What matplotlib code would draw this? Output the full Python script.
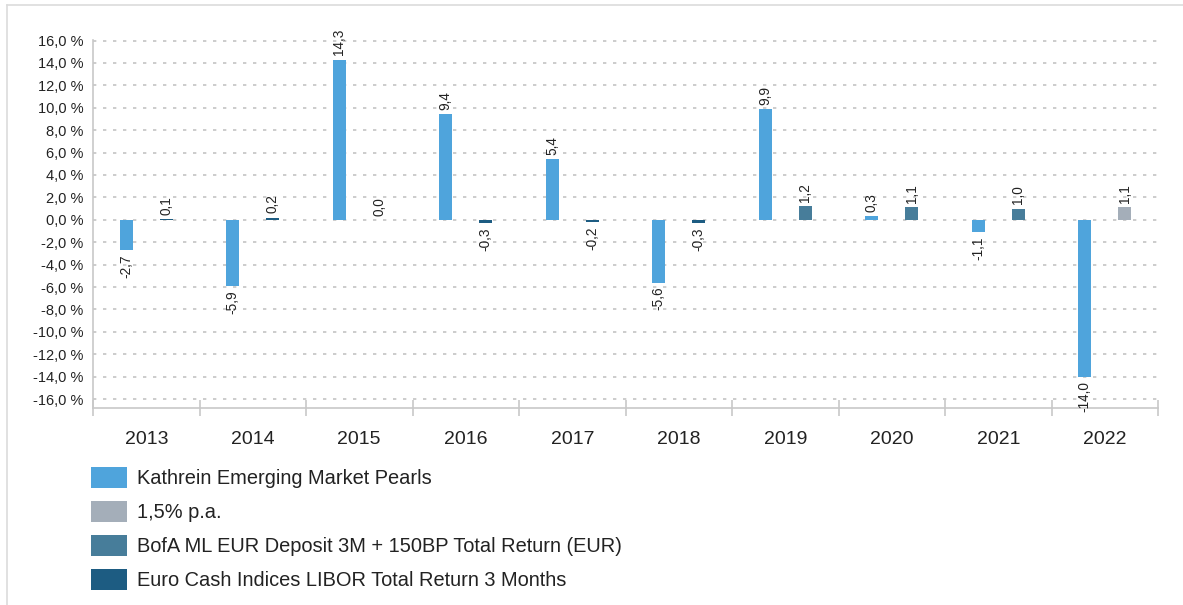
import numpy as np
import matplotlib
matplotlib.use("Agg")
import matplotlib.pyplot as plt
from matplotlib.patches import Patch
from matplotlib.lines import Line2D
from matplotlib.ticker import FixedLocator

plt.rcParams['font.family'] = ['Liberation Sans', 'DejaVu Sans']

years = ["2013", "2014", "2015", "2016", "2017", "2018", "2019", "2020", "2021", "2022"]
kathrein = [-2.7, -5.9, 14.3, 9.4, 5.4, -5.6, 9.9, 0.3, -1.1, -14.0]
pct_pa = [np.nan] * 9 + [1.1]
bofa = [np.nan] * 6 + [1.2, 1.1, 1.0, np.nan]
euro_cash = [0.1, 0.2, 0.0, -0.3, -0.2, -0.3, np.nan, np.nan, np.nan, np.nan]

names = ["Kathrein Emerging Market Pearls", "1,5% p.a.",
         "BofA ML EUR Deposit 3M + 150BP Total Return (EUR)",
         "Euro Cash Indices LIBOR Total Return 3 Months"]
colors = ["#4FA4DC", "#A4AEB9", "#477D9A", "#1D5C82"]

W, H = 1183, 605
fig = plt.figure(figsize=(W / 100, H / 100), dpi=100)
ax = fig.add_axes([93 / W, 1 - 408 / H, (1158 - 93) / W, (408 - 40) / H])

x = np.arange(len(years))
bw = 0.125
off = 0.1875

def fmt(v):
    return f"{v:.1f}".replace(".", ",")

series = [(kathrein, -off, colors[0]), (pct_pa, off, colors[1]),
          (bofa, off, colors[2]), (euro_cash, off, colors[3])]
for vals, o, c in series:
    vals = np.array(vals, dtype=float)
    m = ~np.isnan(vals)
    ax.bar(x[m] + o, vals[m], width=bw, color=c, zorder=3)
    for xi, v in zip(x[m] + o, vals[m]):
        if v >= 0:
            ax.annotate(fmt(v), (xi, v), xytext=(0, 3), textcoords="offset points",
                        rotation=90, ha="center", va="bottom", fontsize=9.8, color="#222222")
        else:
            ax.annotate(fmt(v), (xi, v), xytext=(0, -3), textcoords="offset points",
                        rotation=90, ha="center", va="top", fontsize=9.8, color="#222222")

ax.set_xlim(-0.5, len(years) - 0.5)
ax.set_ylim(-16.8, 16.05)
ax.yaxis.set_major_locator(FixedLocator(np.arange(-16, 16.1, 2)))
ax.set_yticklabels([f"{v:.1f} %".replace(".", ",") for v in np.arange(-16, 16.1, 2)])
ax.set_xticks(x)
ax.set_xticklabels(years)
ax.set_xticks(np.arange(-0.5, len(years), 1), minor=True)

ax.tick_params(axis="y", length=0, pad=7, labelsize=10.5, labelcolor="#222222")
ax.tick_params(axis="x", which="major", length=0, pad=16.5, labelsize=14, labelcolor="#222222")
ax.tick_params(axis="x", which="minor", length=11.5, direction="inout", width=1.2, color="#c8c8c8")

ax.grid(axis="y", color="#c4c4c4", linestyle=(0, (2, 4)), linewidth=1.2, zorder=0)
for s in ["top", "right"]:
    ax.spines[s].set_visible(False)
for s in ["left", "bottom"]:
    ax.spines[s].set_color("#c8c8c8")
    ax.spines[s].set_linewidth(1.2)

handles = [Patch(facecolor=c, edgecolor="none") for c in colors]
fs = 14.4
fpx = fs * 100 / 72
fig.legend(handles, names, loc="upper left", bbox_to_anchor=(91 / W, 1 - 467 / H),
           frameon=False, fontsize=fs, borderpad=0, borderaxespad=0,
           handlelength=36 / fpx, handleheight=25 / fpx, labelspacing=(37.7 - 25) / fpx,
           handletextpad=10 / fpx, labelcolor="#222222")

fig.add_artist(Line2D([7 / W, 7 / W], [0, 1 - 5 / H], transform=fig.transFigure,
                      color="#dcdcdc", linewidth=1.2))
fig.add_artist(Line2D([7 / W, 1], [1 - 5 / H, 1 - 5 / H], transform=fig.transFigure,
                      color="#dcdcdc", linewidth=1.2))

fig.savefig("out.png", dpi=100)
